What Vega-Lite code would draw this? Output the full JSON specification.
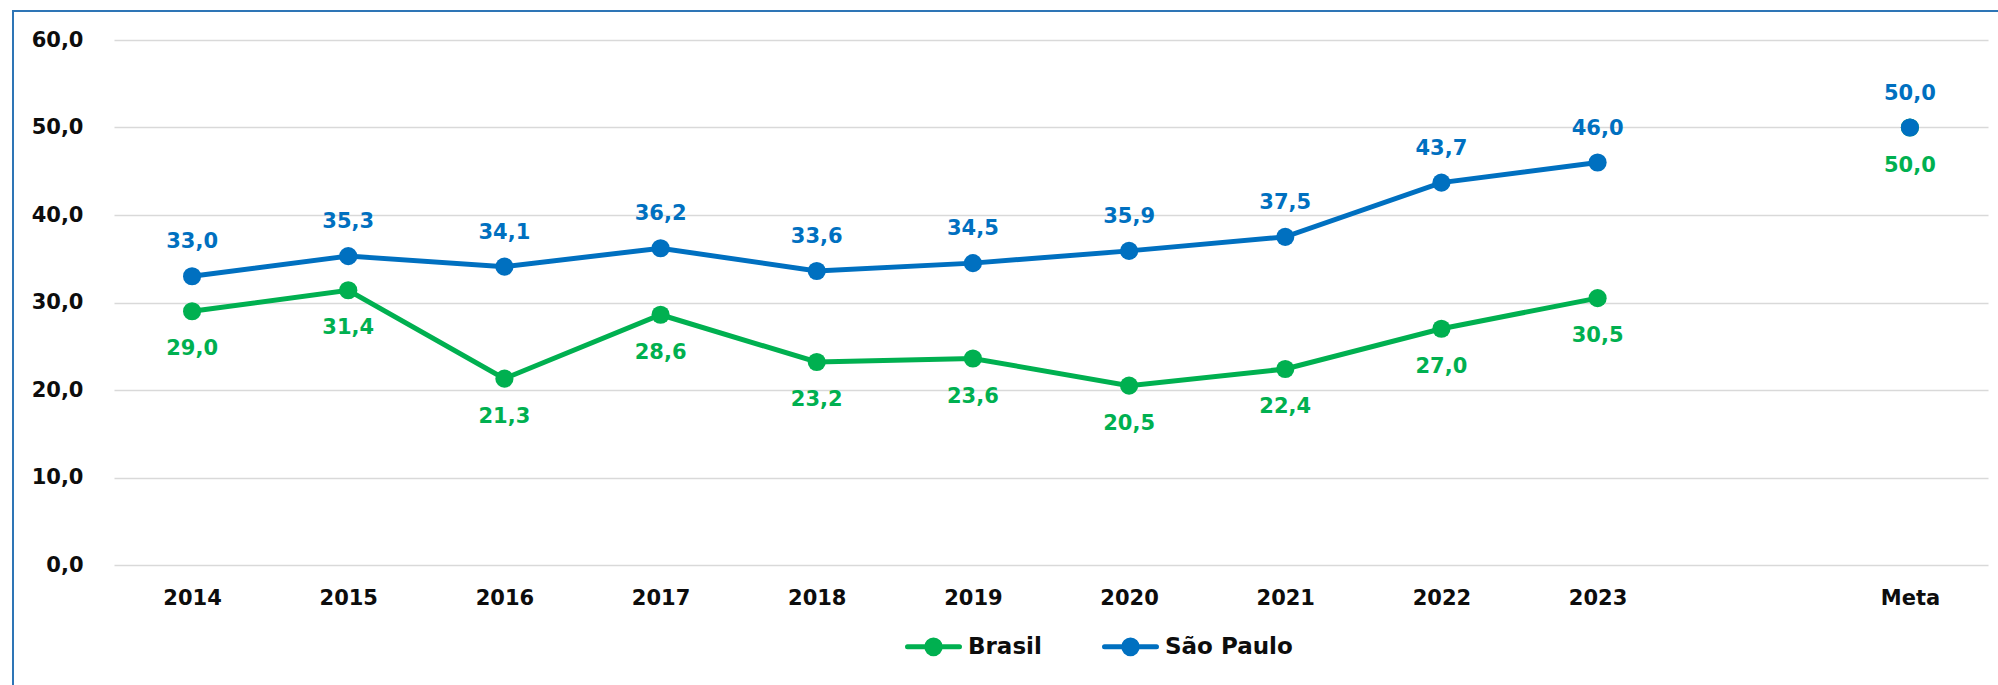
{
  "$schema": "https://vega.github.io/schema/vega-lite/v6.json",
  "width": 1985,
  "height": 674,
  "autosize": {"type": "none"},
  "padding": {"left": 13, "top": 11, "right": 0, "bottom": 0},
  "background": "white",
  "config": {
    "view": {"stroke": "#2E75B6", "strokeWidth": 2, "strokeDash": [1985, 2659, 674]},
    "font": "DejaVu Sans",
    "locale": {"number": {"decimal": ",", "thousands": ".", "grouping": [3], "currency": ["R$", ""]}}
  },
  "data": {
    "values": [
      {"ano": "2014", "serie": "Brasil", "valor": 29.0},
      {"ano": "2015", "serie": "Brasil", "valor": 31.4},
      {"ano": "2016", "serie": "Brasil", "valor": 21.3},
      {"ano": "2017", "serie": "Brasil", "valor": 28.6},
      {"ano": "2018", "serie": "Brasil", "valor": 23.2},
      {"ano": "2019", "serie": "Brasil", "valor": 23.6},
      {"ano": "2020", "serie": "Brasil", "valor": 20.5},
      {"ano": "2021", "serie": "Brasil", "valor": 22.4},
      {"ano": "2022", "serie": "Brasil", "valor": 27.0},
      {"ano": "2023", "serie": "Brasil", "valor": 30.5},
      {"ano": "Meta", "serie": "Brasil", "valor": 50.0},
      {"ano": "2014", "serie": "São Paulo", "valor": 33.0},
      {"ano": "2015", "serie": "São Paulo", "valor": 35.3},
      {"ano": "2016", "serie": "São Paulo", "valor": 34.1},
      {"ano": "2017", "serie": "São Paulo", "valor": 36.2},
      {"ano": "2018", "serie": "São Paulo", "valor": 33.6},
      {"ano": "2019", "serie": "São Paulo", "valor": 34.5},
      {"ano": "2020", "serie": "São Paulo", "valor": 35.9},
      {"ano": "2021", "serie": "São Paulo", "valor": 37.5},
      {"ano": "2022", "serie": "São Paulo", "valor": 43.7},
      {"ano": "2023", "serie": "São Paulo", "valor": 46.0},
      {"ano": "Meta", "serie": "São Paulo", "valor": 50.0}
    ]
  },
  "encoding": {
    "x": {
      "field": "ano",
      "type": "ordinal",
      "scale": {
        "type": "point",
        "padding": 0.5,
        "domain": ["2014", "2015", "2016", "2017", "2018", "2019", "2020", "2021", "2022", "2023", " ", "Meta"],
        "range": [101, 1975]
      },
      "axis": {
        "title": null,
        "orient": "bottom",
        "offset": -120,
        "domain": false,
        "ticks": false,
        "tickSize": 0,
        "grid": false,
        "labelAngle": 0,
        "labelPadding": 22,
        "labelFont": "DejaVu Sans",
        "labelFontSize": 21,
        "labelFontWeight": "bold",
        "labelColor": "#0d0d0d"
      }
    },
    "y": {
      "field": "valor",
      "type": "quantitative",
      "scale": {"domain": [0, 60], "range": [554, 29], "nice": false},
      "axis": {
        "title": null,
        "offset": -101,
        "domain": false,
        "ticks": false,
        "tickSize": 0,
        "values": [0, 10, 20, 30, 40, 50, 60],
        "format": ".1f",
        "labelPadding": 31,
        "labelFont": "DejaVu Sans",
        "labelFontSize": 21,
        "labelFontWeight": "bold",
        "labelColor": "#0d0d0d",
        "gridColor": "#d9d9d9",
        "gridWidth": 1.5
      }
    },
    "color": {
      "field": "serie",
      "type": "nominal",
      "scale": {"domain": ["Brasil", "São Paulo"], "range": ["#00B050", "#0070C0"]},
      "legend": {
        "title": null,
        "orient": "none",
        "direction": "horizontal",
        "columns": 2,
        "legendX": 892,
        "legendY": 607,
        "symbolType": "M-1,0H1M-0.26,0A0.26,0.26 0 1,1 0.26,0A0.26,0.26 0 1,1 -0.26,0",
        "symbolSize": 2704,
        "symbolStrokeWidth": 5,
        "labelOffset": 6,
        "columnPadding": 52,
        "labelFont": "DejaVu Sans",
        "labelFontSize": 23,
        "labelFontWeight": "bold",
        "labelColor": "#0d0d0d",
        "encode": {
          "symbols": {
            "update": {
              "fill": {"scale": "color", "field": "value"},
              "stroke": {"scale": "color", "field": "value"},
              "strokeCap": {"value": "round"},
              "opacity": {"value": 1}
            }
          }
        }
      }
    }
  },
  "layer": [
    {
      "transform": [{"filter": "datum.ano !== 'Meta'"}],
      "mark": {"type": "line", "strokeWidth": 5}
    },
    {
      "mark": {"type": "point", "filled": true, "size": 330, "opacity": 1, "strokeWidth": 0}
    },
    {
      "transform": [{"filter": "datum.serie === 'São Paulo'"}],
      "mark": {"type": "text", "dy": -34, "fontSize": 21, "fontWeight": "bold", "font": "DejaVu Sans", "baseline": "middle"},
      "encoding": {"text": {"field": "valor", "type": "quantitative", "format": ".1f"}}
    },
    {
      "transform": [{"filter": "datum.serie === 'Brasil'"}],
      "mark": {"type": "text", "dy": 38, "fontSize": 21, "fontWeight": "bold", "font": "DejaVu Sans", "baseline": "middle"},
      "encoding": {"text": {"field": "valor", "type": "quantitative", "format": ".1f"}}
    }
  ]
}
